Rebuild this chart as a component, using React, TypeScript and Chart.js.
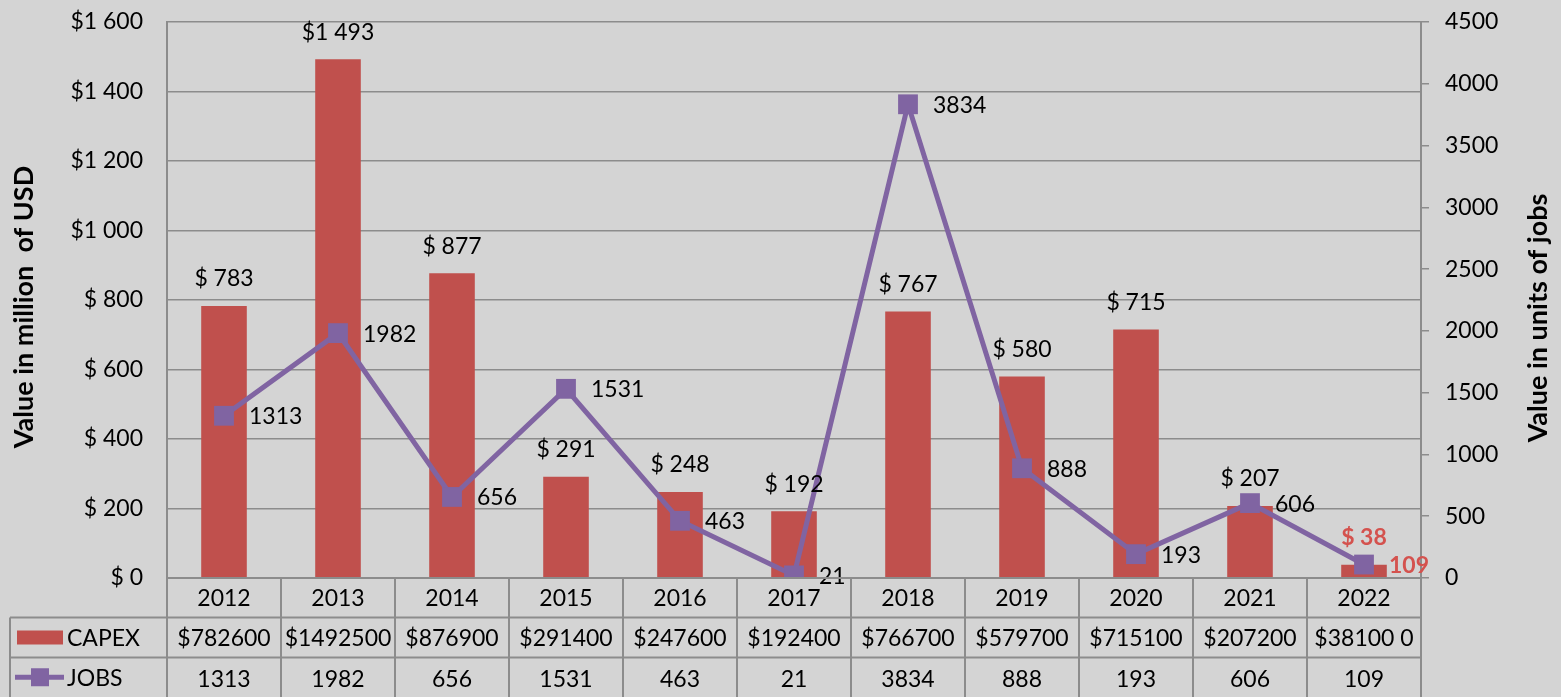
import React, { useEffect, useRef } from "react";
import { Chart, registerables } from "chart.js";

Chart.register(...registerables);

const years = ["2012", "2013", "2014", "2015", "2016", "2017", "2018", "2019", "2020", "2021", "2022"];
const capex = [782.6, 1492.5, 876.9, 291.4, 247.6, 192.4, 766.7, 579.7, 715.1, 207.2, 38.1];
const jobs = [1313, 1982, 656, 1531, 463, 21, 3834, 888, 193, 606, 109];
const capexBarLabels = ["$ 783", "$1 493", "$ 877", "$ 291", "$ 248", "$ 192", "$ 767", "$ 580", "$ 715", "$ 207", "$ 38"];
const capexTableLabels = ["$782600", "$1492500", "$876900", "$291400", "$247600", "$192400", "$766700", "$579700", "$715100", "$207200", "$38100 0"];
const jobsTableLabels = ["1313", "1982", "656", "1531", "463", "21", "3834", "888", "193", "606", "109"];
const highlightIndex = 10;

const FONT = "Lato, 'DejaVu Sans', sans-serif";
const FS = 23;
const BAR_COLOR = "#c0504d";
const LINE_COLOR = "#8064a2";
const HILITE = "#d4524e";
const GRID = "#8c8c8c";

const fmtUsd = (v: number) => {
  if (v >= 1000) {
    const rest = String(v - 1000).padStart(3, "0");
    return "$1 " + rest;
  }
  return "$ " + v;
};

const overlayPlugin = {
  id: "overlay",
  beforeDraw(chart: any) {
    const ctx = chart.ctx;
    ctx.save();
    ctx.fillStyle = "#d4d4d4";
    ctx.fillRect(0, 0, chart.width, chart.height);
    ctx.restore();
  },
  afterDatasetsDraw(chart: any) {
    const ctx = chart.ctx;
    ctx.save();
    const barMeta = chart.getDatasetMeta(0);
    barMeta.data.forEach((el: any, i: number) => {
      const hl = i === highlightIndex;
      ctx.font = (hl ? "bold " : "") + FS + "px " + FONT;
      ctx.fillStyle = hl ? HILITE : "#000";
      ctx.textAlign = "center";
      ctx.textBaseline = "middle";
      ctx.fillText(capexBarLabels[i], el.x, el.y - 27);
    });
    const lineMeta = chart.getDatasetMeta(1);
    lineMeta.data.forEach((el: any, i: number) => {
      const hl = i === highlightIndex;
      ctx.font = (hl ? "bold " : "") + FS + "px " + FONT;
      ctx.fillStyle = hl ? HILITE : "#000";
      ctx.textAlign = "left";
      ctx.textBaseline = "middle";
      ctx.fillText(jobsTableLabels[i], el.x + 25, el.y + 1);
    });
    ctx.restore();
  },
  afterDraw(chart: any) {
    const ctx = chart.ctx;
    const area = chart.chartArea;
    const xs = chart.scales.x;
    const n = years.length;
    const colW = (area.right - area.left) / n;
    const r0 = area.bottom;
    const r1 = area.bottom + 39.5;
    const r2 = area.bottom + 79.5;
    const r3 = chart.height + 2;
    const tableLeft = 10;
    ctx.save();
    ctx.strokeStyle = GRID;
    ctx.lineWidth = 2;
    ctx.beginPath();
    ctx.moveTo(area.left, r0);
    ctx.lineTo(area.right, r0);
    ctx.moveTo(tableLeft, r1);
    ctx.lineTo(area.right, r1);
    ctx.moveTo(tableLeft, r2);
    ctx.lineTo(area.right, r2);
    for (let k = 0; k <= n; k++) {
      const x = area.left + k * colW;
      ctx.moveTo(x, r0);
      ctx.lineTo(x, r3);
    }
    ctx.moveTo(tableLeft, r1);
    ctx.lineTo(tableLeft, r3);
    ctx.stroke();

    ctx.font = FS + "px " + FONT;
    ctx.fillStyle = "#000";
    ctx.textAlign = "center";
    ctx.textBaseline = "middle";
    for (let i = 0; i < n; i++) {
      const cx = xs.getPixelForValue(i);
      ctx.fillText(years[i], cx, (r0 + r1) / 2 + 1);
      ctx.fillText(capexTableLabels[i], cx, (r1 + r2) / 2 + 1);
      ctx.fillText(jobsTableLabels[i], cx, (r2 + chart.height) / 2 + 2);
    }
    const y1 = (r1 + r2) / 2;
    const y2 = (r2 + chart.height) / 2;
    ctx.fillStyle = BAR_COLOR;
    ctx.fillRect(17, y1 - 7, 46, 14);
    ctx.strokeStyle = LINE_COLOR;
    ctx.lineWidth = 5;
    ctx.beginPath();
    ctx.moveTo(15, y2);
    ctx.lineTo(64, y2);
    ctx.stroke();
    ctx.fillStyle = LINE_COLOR;
    ctx.fillRect(31, y2 - 9, 18, 18);
    ctx.fillStyle = "#000";
    ctx.textAlign = "left";
    ctx.fillText("CAPEX", 67, y1 + 1);
    ctx.fillText("JOBS", 67, y2 + 1);

    ctx.font = "bold 27px " + FONT;
    ctx.textAlign = "center";
    ctx.textBaseline = "middle";
    ctx.save();
    ctx.translate(24, 307);
    ctx.rotate(-Math.PI / 2);
    ctx.fillText("Value in million  of USD", 0, 0);
    ctx.restore();
    ctx.save();
    ctx.translate(1538, 318);
    ctx.rotate(-Math.PI / 2);
    ctx.fillText("Value in units of jobs", 0, 0);
    ctx.restore();
    ctx.restore();
  },
};

export default function App() {
  const ref = useRef<HTMLCanvasElement | null>(null);
  useEffect(() => {
    document.body.style.margin = "0";
    if (!ref.current) return;
    const chart = new Chart(ref.current, {
      type: "bar",
      data: {
        labels: years,
        datasets: [
          {
            type: "bar",
            label: "CAPEX",
            data: capex,
            backgroundColor: BAR_COLOR,
            yAxisID: "y",
            barPercentage: 0.4,
            categoryPercentage: 1,
            order: 1,
          } as any,
          {
            type: "line",
            label: "JOBS",
            data: jobs,
            yAxisID: "y1",
            borderColor: LINE_COLOR,
            borderWidth: 5,
            pointStyle: "rect",
            pointRadius: 14,
            pointBackgroundColor: LINE_COLOR,
            pointBorderWidth: 0,
            tension: 0,
            order: 0,
          } as any,
        ],
      },
      options: {
        responsive: false,
        animation: false,
        layout: { padding: { top: 22, left: 0, right: 0, bottom: 0 } },
        plugins: { legend: { display: false }, tooltip: { enabled: false } },
        scales: {
          x: {
            offset: true,
            grid: { display: false },
            border: { display: false },
            ticks: { display: false },
            afterFit: (s: any) => {
              s.height = 119;
              s.paddingLeft = 0;
              s.paddingRight = 0;
            },
          },
          y: {
            position: "left",
            min: 0,
            max: 1600,
            ticks: {
              stepSize: 200,
              padding: 24,
              color: "#000",
              font: { family: FONT, size: FS },
              callback: (v: any) => fmtUsd(Number(v)),
            },
            grid: { color: GRID, lineWidth: 1.5, drawTicks: false },
            border: { display: true, color: GRID, width: 2 },
            afterFit: (s: any) => {
              s.width = 167;
              s.paddingTop = 0;
              s.paddingBottom = 0;
            },
          },
          y1: {
            position: "right",
            min: 0,
            max: 4500,
            ticks: {
              stepSize: 500,
              padding: 16,
              color: "#000",
              font: { family: FONT, size: FS },
              callback: (v: any) => String(v),
            },
            grid: { drawOnChartArea: false, drawTicks: true, tickLength: 8, color: GRID, lineWidth: 1.5 },
            border: { display: true, color: GRID, width: 2 },
            afterFit: (s: any) => {
              s.width = 140;
              s.paddingTop = 0;
              s.paddingBottom = 0;
            },
          },
        },
      } as any,
      plugins: [overlayPlugin],
    });
    return () => chart.destroy();
  }, []);
  return <canvas ref={ref} width={1561} height={697} style={{ display: "block" }} />;
}
